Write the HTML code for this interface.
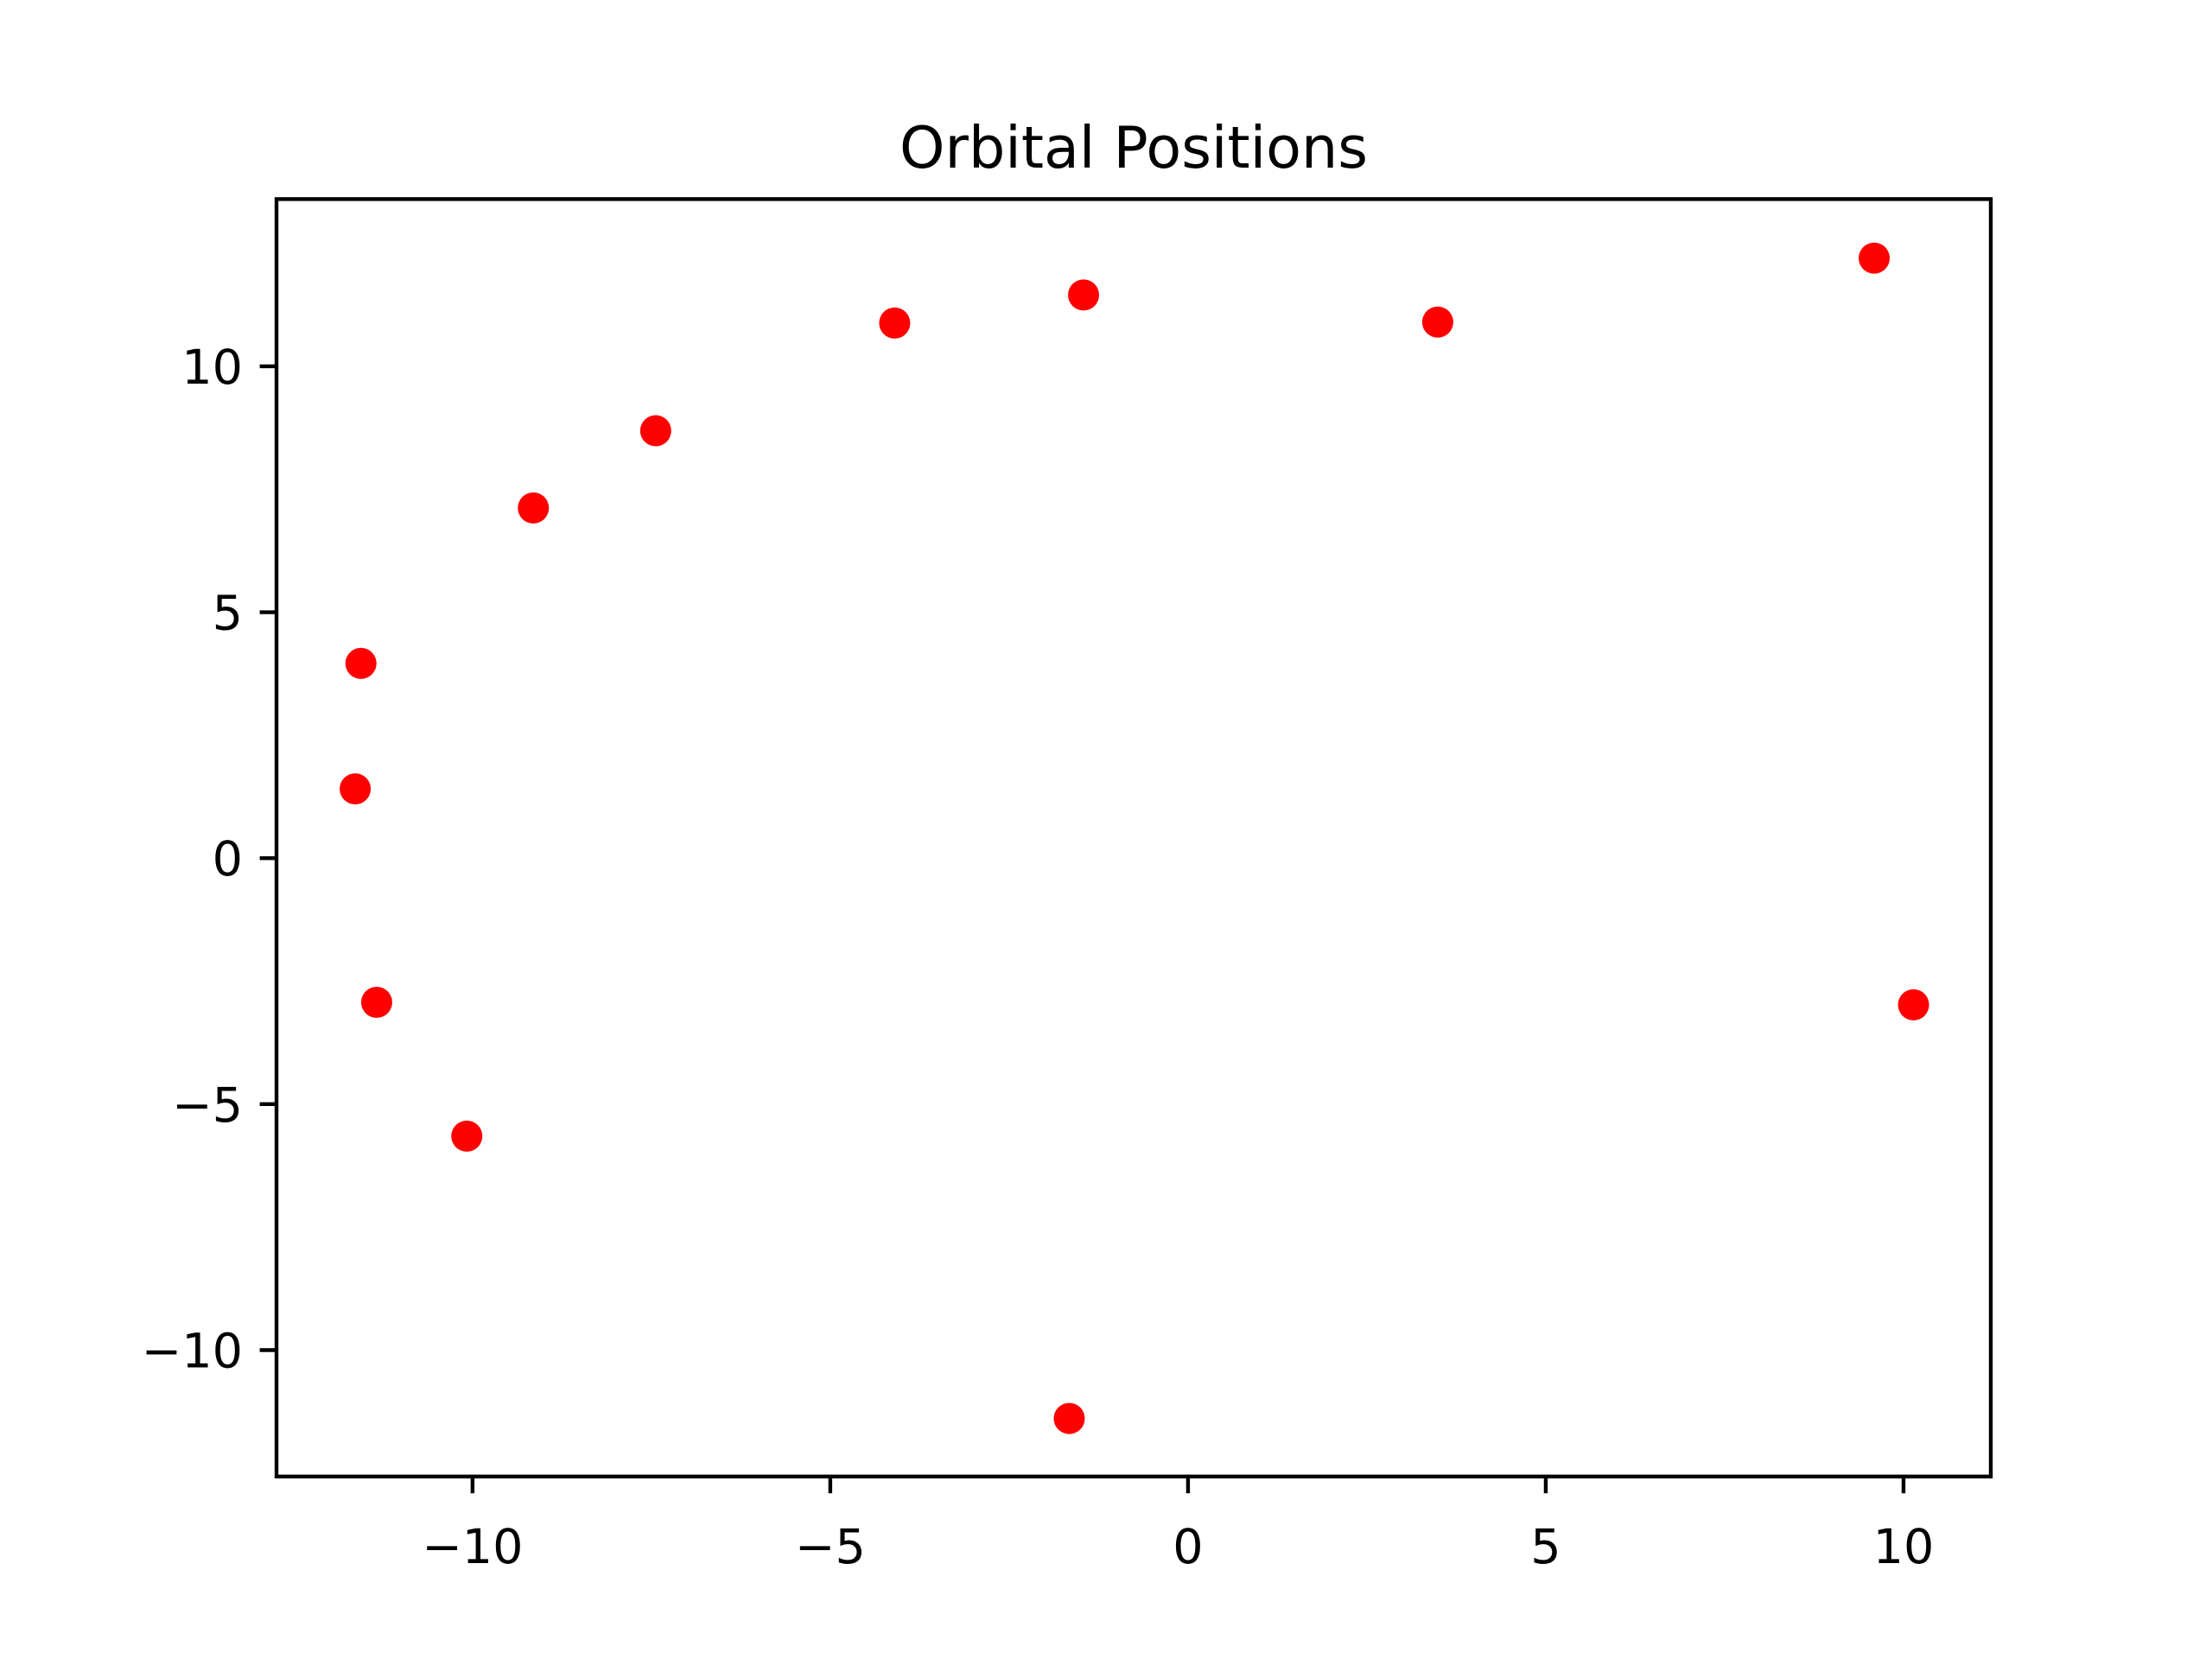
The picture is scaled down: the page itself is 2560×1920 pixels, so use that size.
<!DOCTYPE html>
<html><head><meta charset="utf-8"><style>html,body{margin:0;padding:0;background:#fff}svg{display:block}</style></head>
<body>
<svg id="chart" width="2560" height="1920" viewBox="0 0 2560 1920" xmlns="http://www.w3.org/2000/svg" font-family="'DejaVu Sans','Liberation Sans',sans-serif">
<rect width="2560" height="1920" fill="#fff"/>
<text x="1312" y="194" font-size="66.7" text-anchor="middle">Orbital Positions</text>
<g id="marks"></g>
<g id="xticks"></g>
<g id="yticks"></g>
<rect x="320" y="230.4" width="1984" height="1478.4" fill="none" stroke="#000" stroke-width="4.4"/>
</svg>
<script>
const xValues = [9.59, -1.46, -4.10, 3.49, -7.44, -9.15, -11.56, -11.64, -11.34, -10.08, -1.66, 10.14];
const yValues = [12.20, 11.45, 10.88, 10.90, 8.69, 7.12, 3.96, 1.41, -2.93, -5.65, -11.39, -2.98];
const xTickValues = [-10, -5, 0, 5, 10];
const yTickValues = [-10, -5, 0, 5, 10];
const xTickLabels = ["\u221210", "\u22125", "0", "5", "10"];
const yTickLabels = ["\u221210", "\u22125", "0", "5", "10"];

const X0 = 320, X1 = 2304, Y0 = 1708.8, Y1 = 230.4;
const xMin = -12.74, xMax = 11.22, yMin = -12.57, yMax = 13.40;
const sx = v => X0 + (v - xMin) / (xMax - xMin) * (X1 - X0);
const sy = v => Y0 - (v - yMin) / (yMax - yMin) * (Y0 - Y1);
const NS = "http://www.w3.org/2000/svg";
const marks = document.getElementById('marks');
xValues.forEach((x, i) => {
  const c = document.createElementNS(NS, 'circle');
  c.setAttribute('cx', sx(x)); c.setAttribute('cy', sy(yValues[i]));
  c.setAttribute('r', 18); c.setAttribute('fill', '#ff0000');
  
  
  marks.appendChild(c);
});
const xg = document.getElementById('xticks');
xTickValues.forEach((v, i) => {
  const px = sx(v);
  const l = document.createElementNS(NS, 'line');
  l.setAttribute('x1', px); l.setAttribute('x2', px); l.setAttribute('y1', Y0); l.setAttribute('y2', Y0 + 19.4);
  l.setAttribute('stroke', '#000'); l.setAttribute('stroke-width', 4.4);
  
  
  xg.appendChild(l);
  const t = document.createElementNS(NS, 'text');
  t.setAttribute('x', px); t.setAttribute('y', Y0 + 100); t.setAttribute('font-size', 55.6); t.setAttribute('text-anchor', 'middle');
  t.textContent = xTickLabels[i];
  
  
  xg.appendChild(t);
});
const yg = document.getElementById('yticks');
yTickValues.forEach((v, i) => {
  const py = sy(v);
  const l = document.createElementNS(NS, 'line');
  l.setAttribute('x1', X0 - 19.4); l.setAttribute('x2', X0); l.setAttribute('y1', py); l.setAttribute('y2', py);
  l.setAttribute('stroke', '#000'); l.setAttribute('stroke-width', 4.4);
  
  
  yg.appendChild(l);
  const t = document.createElementNS(NS, 'text');
  t.setAttribute('x', X0 - 39); t.setAttribute('y', py + 20); t.setAttribute('font-size', 55.6); t.setAttribute('text-anchor', 'end');
  t.textContent = yTickLabels[i];
  
  
  yg.appendChild(t);
});
</script>
</body></html>
